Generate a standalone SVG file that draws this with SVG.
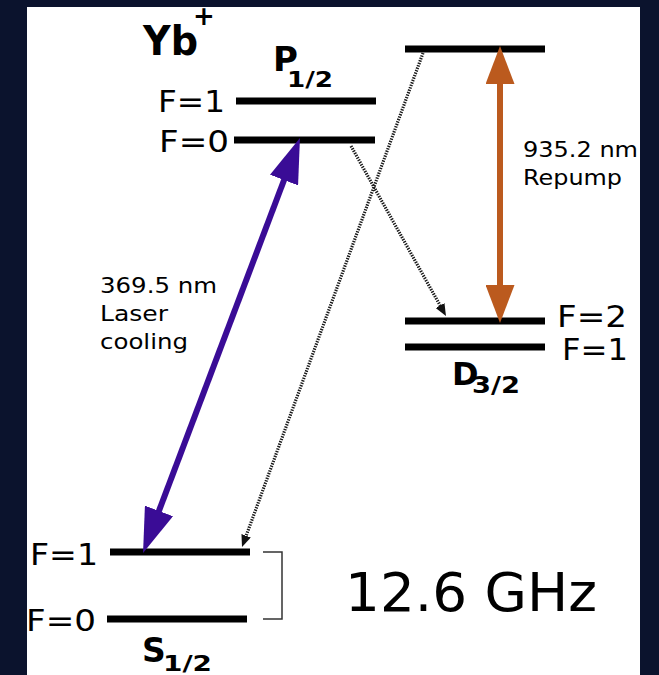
<svg xmlns="http://www.w3.org/2000/svg" width="659" height="675" viewBox="0 0 659 675">
  <style>
    .lvl { stroke: #000; stroke-width: 7; fill: none; }
    .t { font-family: "DejaVu Sans", Verdana, sans-serif; fill: #000; }
    .f { font-size: 31px; }
    .s { font-size: 22px; }
    .b { font-weight: bold; }
    .dot { stroke: #1a1a1a; stroke-width: 3.2; stroke-dasharray: 1.4 1.2; fill: none; }
    .frame { fill: #0b132d; }
  </style>
  <defs>
    <marker id="ahPurple" viewBox="0 0 45 30" refX="3" refY="15" markerWidth="45" markerHeight="30" markerUnits="userSpaceOnUse" orient="auto-start-reverse">
      <path d="M0,0 L45,15 L0,30 Z" fill="#3a0c96"/>
    </marker>
    <marker id="ahOrange" viewBox="0 0 38 29" refX="3" refY="14.5" markerWidth="38" markerHeight="29" markerUnits="userSpaceOnUse" orient="auto-start-reverse">
      <path d="M0,0 L38,14.5 L0,29 Z" fill="#bb5a1e"/>
    </marker>
    <marker id="ahDot" viewBox="0 0 12 10" refX="1" refY="5" markerWidth="12" markerHeight="10" markerUnits="userSpaceOnUse" orient="auto">
      <path d="M0,0 L12,5 L0,10 Z" fill="#111"/>
    </marker>
  </defs>

  <rect class="frame" x="0" y="0" width="659" height="675"/>
  <rect x="27" y="7" width="613" height="668" fill="#ffffff"/>

  <g id="title">
    <text class="t b" x="143" y="55" font-size="41" textLength="55" lengthAdjust="spacingAndGlyphs">Yb</text>
    <text class="t b" x="204" y="25" font-size="26" text-anchor="middle">+</text>
  </g>

  <g id="P12">
    <line class="lvl" x1="236" y1="101" x2="376" y2="101"/>
    <line class="lvl" x1="234" y1="140" x2="375" y2="140"/>
    <text class="t b" x="273" y="71" font-size="34">P</text>
    <text class="t b" x="287" y="87" font-size="22" textLength="46" lengthAdjust="spacingAndGlyphs">1/2</text>
    <text class="t f" x="158" y="112" textLength="67" lengthAdjust="spacingAndGlyphs">F=1</text>
    <text class="t f" x="159" y="152" textLength="70" lengthAdjust="spacingAndGlyphs">F=0</text>
  </g>

  <g id="upper">
    <line class="lvl" x1="405" y1="49" x2="545" y2="49"/>
  </g>

  <g id="D32">
    <line class="lvl" x1="405" y1="321" x2="545" y2="321"/>
    <line class="lvl" x1="405" y1="347" x2="545" y2="347"/>
    <text class="t f" x="557" y="327" textLength="70" lengthAdjust="spacingAndGlyphs">F=2</text>
    <text class="t f" x="562" y="360" textLength="66" lengthAdjust="spacingAndGlyphs">F=1</text>
    <text class="t b" x="452" y="385" font-size="32">D</text>
    <text class="t b" x="472" y="393" font-size="23" textLength="48" lengthAdjust="spacingAndGlyphs">3/2</text>
  </g>

  <g id="S12">
    <line class="lvl" x1="110" y1="552" x2="250" y2="552"/>
    <line class="lvl" x1="107" y1="619" x2="247" y2="619"/>
    <text class="t f" x="30" y="565" textLength="68" lengthAdjust="spacingAndGlyphs">F=1</text>
    <text class="t f" x="26" y="631" textLength="70" lengthAdjust="spacingAndGlyphs">F=0</text>
    <text class="t b" x="142" y="662" font-size="33">S</text>
    <text class="t b" x="163" y="671" font-size="22" textLength="49" lengthAdjust="spacingAndGlyphs">1/2</text>
  </g>

  <g id="hyperfine">
    <path d="M263,552 H282 V619 H263" fill="none" stroke="#333" stroke-width="1.5"/>
    <text class="t" x="345" y="611" font-size="53" textLength="252" lengthAdjust="spacingAndGlyphs">12.6 GHz</text>
  </g>

  <g id="connectors">
    <line x1="157.9" y1="513.7" x2="285.1" y2="177.3" stroke="#3a0c96" stroke-width="6" marker-start="url(#ahPurple)" marker-end="url(#ahPurple)"/>
    <line x1="500" y1="81" x2="500" y2="288" stroke="#bb5a1e" stroke-width="6" marker-start="url(#ahOrange)" marker-end="url(#ahOrange)"/>
    <line class="dot" x1="351" y1="146" x2="440.6" y2="306.4" marker-end="url(#ahDot)"/>
    <line class="dot" x1="423" y1="53" x2="245.8" y2="536.7" marker-end="url(#ahDot)"/>
  </g>

  <g id="labels">
    <text class="t s" x="100" y="293" textLength="117" lengthAdjust="spacingAndGlyphs">369.5 nm</text>
    <text class="t s" x="100" y="321" textLength="68" lengthAdjust="spacingAndGlyphs">Laser</text>
    <text class="t s" x="100" y="349" textLength="88" lengthAdjust="spacingAndGlyphs">cooling</text>
    <text class="t s" x="523" y="157" textLength="115" lengthAdjust="spacingAndGlyphs">935.2 nm</text>
    <text class="t s" x="523" y="185" textLength="99" lengthAdjust="spacingAndGlyphs">Repump</text>
  </g>

  <rect class="frame" x="0" y="0" width="659" height="7"/>
  <rect class="frame" x="0" y="0" width="27" height="675"/>
  <rect class="frame" x="640" y="0" width="19" height="675"/>
</svg>
